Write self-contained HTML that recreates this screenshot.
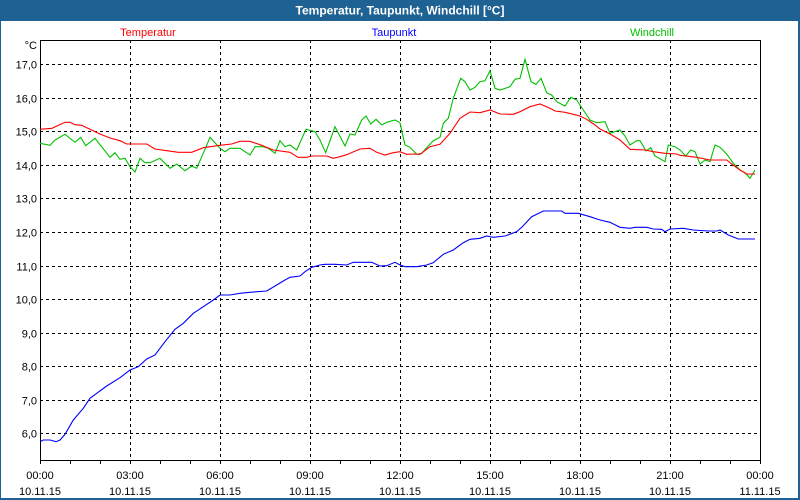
<!DOCTYPE html>
<html>
<head>
<meta charset="utf-8">
<style>
  html,body{margin:0;padding:0;background:#fff;}
  #wrap{position:relative;width:800px;height:500px;overflow:hidden;background:#fff;font-family:"Liberation Sans",sans-serif;}
  svg text{font-family:"Liberation Sans",sans-serif;}
</style>
</head>
<body>
<div id="wrap">
<svg width="800" height="500" viewBox="0 0 800 500" xmlns="http://www.w3.org/2000/svg">
  <!-- frame -->
  <rect x="0" y="0" width="800" height="500" fill="#1e6193"/>
  <rect x="1" y="21" width="797" height="477" fill="#ffffff"/>
  <text x="400" y="14.5" fill="#ffffff" font-size="12" font-weight="bold" text-anchor="middle">Temperatur, Taupunkt, Windchill [°C]</text>

  <!-- legend -->
  <text x="148" y="36" fill="#ff0000" font-size="11" text-anchor="middle">Temperatur</text>
  <text x="394" y="36" fill="#0000ff" font-size="11" text-anchor="middle">Taupunkt</text>
  <text x="652" y="36" fill="#00c000" font-size="11" text-anchor="middle">Windchill</text>

  <!-- grid -->
  <g stroke="#000" stroke-width="1" stroke-dasharray="3,3" fill="none" shape-rendering="crispEdges">
    <line x1="40" y1="64.5" x2="760" y2="64.5"/>
    <line x1="40" y1="98.5" x2="760" y2="98.5"/>
    <line x1="40" y1="131.5" x2="760" y2="131.5"/>
    <line x1="40" y1="165.5" x2="760" y2="165.5"/>
    <line x1="40" y1="198.5" x2="760" y2="198.5"/>
    <line x1="40" y1="232.5" x2="760" y2="232.5"/>
    <line x1="40" y1="266.5" x2="760" y2="266.5"/>
    <line x1="40" y1="299.5" x2="760" y2="299.5"/>
    <line x1="40" y1="333.5" x2="760" y2="333.5"/>
    <line x1="40" y1="366.5" x2="760" y2="366.5"/>
    <line x1="40" y1="400.5" x2="760" y2="400.5"/>
    <line x1="40" y1="433.5" x2="760" y2="433.5"/>
    <line x1="130.5" y1="40" x2="130.5" y2="460"/>
    <line x1="220.5" y1="40" x2="220.5" y2="460"/>
    <line x1="310.5" y1="40" x2="310.5" y2="460"/>
    <line x1="400.5" y1="40" x2="400.5" y2="460"/>
    <line x1="490.5" y1="40" x2="490.5" y2="460"/>
    <line x1="580.5" y1="40" x2="580.5" y2="460"/>
    <line x1="670.5" y1="40" x2="670.5" y2="460"/>
  </g>

  <!-- plot border -->
  <rect x="40.5" y="40.5" width="720" height="420" fill="none" stroke="#000" stroke-width="1" shape-rendering="crispEdges"/>

  <!-- x ticks -->
  <g stroke="#000" stroke-width="1" shape-rendering="crispEdges">
    <line x1="40.5" y1="460" x2="40.5" y2="464"/>
    <line x1="70.5" y1="460" x2="70.5" y2="464"/>
    <line x1="100.5" y1="460" x2="100.5" y2="464"/>
    <line x1="130.5" y1="460" x2="130.5" y2="464"/>
    <line x1="160.5" y1="460" x2="160.5" y2="464"/>
    <line x1="190.5" y1="460" x2="190.5" y2="464"/>
    <line x1="220.5" y1="460" x2="220.5" y2="464"/>
    <line x1="250.5" y1="460" x2="250.5" y2="464"/>
    <line x1="280.5" y1="460" x2="280.5" y2="464"/>
    <line x1="310.5" y1="460" x2="310.5" y2="464"/>
    <line x1="340.5" y1="460" x2="340.5" y2="464"/>
    <line x1="370.5" y1="460" x2="370.5" y2="464"/>
    <line x1="400.5" y1="460" x2="400.5" y2="464"/>
    <line x1="430.5" y1="460" x2="430.5" y2="464"/>
    <line x1="460.5" y1="460" x2="460.5" y2="464"/>
    <line x1="490.5" y1="460" x2="490.5" y2="464"/>
    <line x1="520.5" y1="460" x2="520.5" y2="464"/>
    <line x1="550.5" y1="460" x2="550.5" y2="464"/>
    <line x1="580.5" y1="460" x2="580.5" y2="464"/>
    <line x1="610.5" y1="460" x2="610.5" y2="464"/>
    <line x1="640.5" y1="460" x2="640.5" y2="464"/>
    <line x1="670.5" y1="460" x2="670.5" y2="464"/>
    <line x1="700.5" y1="460" x2="700.5" y2="464"/>
    <line x1="730.5" y1="460" x2="730.5" y2="464"/>
    <line x1="760.5" y1="460" x2="760.5" y2="464"/>
  </g>

  <!-- y labels -->
  <g font-size="11" fill="#000" text-anchor="end">
    <text x="37" y="49">°C</text>
    <text x="37" y="68.5">17,0</text>
    <text x="37" y="102.5">16,0</text>
    <text x="37" y="135.5">15,0</text>
    <text x="37" y="169.5">14,0</text>
    <text x="37" y="202.5">13,0</text>
    <text x="37" y="236.5">12,0</text>
    <text x="37" y="270.5">11,0</text>
    <text x="37" y="303.5">10,0</text>
    <text x="37" y="337.5">9,0</text>
    <text x="37" y="370.5">8,0</text>
    <text x="37" y="404.5">7,0</text>
    <text x="37" y="437.5">6,0</text>
  </g>

  <!-- x labels -->
  <g font-size="11" fill="#000" text-anchor="middle">
    <text x="40" y="479">00:00</text><text x="40" y="495">10.11.15</text>
    <text x="130" y="479">03:00</text><text x="130" y="495">10.11.15</text>
    <text x="220" y="479">06:00</text><text x="220" y="495">10.11.15</text>
    <text x="310" y="479">09:00</text><text x="310" y="495">10.11.15</text>
    <text x="400" y="479">12:00</text><text x="400" y="495">10.11.15</text>
    <text x="490" y="479">15:00</text><text x="490" y="495">10.11.15</text>
    <text x="580" y="479">18:00</text><text x="580" y="495">10.11.15</text>
    <text x="670" y="479">21:00</text><text x="670" y="495">10.11.15</text>
    <text x="760" y="479">00:00</text><text x="760" y="495">11.11.15</text>
  </g>

  <!-- series -->
  <polyline fill="none" stroke="#00c000" stroke-width="1.1" points="40,143.3 50,145.3 55,140 65,134.3 75,142.3 80.7,137.3 85.7,145.7 95,138.3 110,157.3 115,152.7 120,159.3 125,158.3 130,166.7 135,172 140,158.3 145,162.7 150,162.7 160,158.3 170,168.3 176.7,164 185,170.7 191.7,166 196.7,168.3 203.3,153.3 210,137.3 220,148.3 225,151.7 230,148.3 240,148.3 250,155 255,146.7 263.3,146.7 268.3,148.3 275,153.3 280,140.7 285,146.7 290,145 296.7,150 306,129.3 315,131.7 320,140 325.7,152.7 335,126.7 345,146 350,134 355,135 361.7,120 366,116 370.7,124 376,119.3 381.7,125 386.7,122.3 395,120 400,122.7 405,145 410,147.3 416.7,154.3 421.7,153.3 428.3,146 433.3,140.7 440,137.3 443.3,123.3 448.3,118.3 453.3,98.3 460.7,78.3 465,81.7 470,90 475,87.3 480,81.7 485,80.7 490,70.7 495,88.3 500,90 510,86.7 515,79.3 520,78.3 525,59.3 531,81.7 536,84.3 541,78.3 546.7,92.7 551.7,95 556.7,101.7 565,106 570.7,97.3 576.7,100 583.3,110 590,120 596.7,122.7 605,121.7 610,133.3 620,130 625,136 630,145 636.7,140.7 640,140.7 646,151 650.7,147.7 655,156 665,161.7 668.3,145 675,146.7 680,150 685.7,156 690.7,150 695,151.7 700,164 705,160 710,161.7 715,145 720,147.3 726.7,154 733.3,163.3 740,170 745,172.7 750,178.3 755,170"/>
  <polyline fill="none" stroke="#ff0000" stroke-width="1.1" points="40,129.3 52,128.3 65,122.3 70,122.3 75,124.7 81.7,125.3 90,129.3 100,134 110,138 120,140.7 126.7,144 146.7,144 155,149 166.7,150.7 178.3,152.3 191.7,152.3 203.3,147.7 220,145.3 231.7,144 240,141.3 250,141.3 260,144.7 273.3,150 290,152.3 298,157.3 306.7,157.3 311.7,156 326.7,156 333.3,158.3 340,156.7 346.7,154.7 360,149 370,148.3 376.7,152.3 385,155 393.3,152.7 400,151.7 406.7,154.3 413.3,154 420,154.3 430,146.7 440,144.3 450,133.3 460,118.3 470,112 480,112.7 490,110 500,114 513.3,114.3 520,111.7 530,106.7 540,104 550,108.3 555,111 565,112.3 573.3,114.3 580,116 586.7,119.3 595,125 600,129 610,134 620,140 630,149.3 645,150 653.3,151.7 665,153.3 676.7,154 680,155.3 696.7,157.3 710,160 726.7,160 731.7,164 740,170 746.7,174 755,174"/>
  <polyline fill="none" stroke="#0000ff" stroke-width="1.1" points="40,441.7 43.3,440 50,440 56,441.7 60,440 65,434.3 73.3,420 83.3,408.3 90,398.3 96.7,393.3 106.7,386 120,377.7 130,370 138.3,366.7 146.7,359 155,355 165,341.7 175,329.3 183.3,323.3 193.3,313.3 203.3,306.7 213.3,300 220,295 230,295 240,293.3 250,292.3 266.7,291 276.7,285 285,280 290,277.3 300,276 305,271.7 311.7,267.3 320,265 325,264.3 335,264.3 346.7,265 353.3,262.3 371.7,262.3 380,266 386.7,265.7 395,262.3 400,265 405,266.7 416.7,266.7 426.7,265 433.3,262.7 443.3,254.3 453.3,250 463.3,242.7 470,239.3 480,238.3 486.7,236 493.3,237.3 505,236 516.7,231.7 522,227 531.7,216.7 543.3,211 561.7,211 565,213.3 578.3,213.3 590,216.7 600,220 610,222.3 620,227.3 630,228.3 635,227.3 646.7,227.3 653.3,229 661.7,229.3 665,231.7 670,229 683.3,228.3 693.3,230 708.3,231 716.7,231 720,230 728.3,235 738.3,239 755,239"/>
</svg>
</div>
</body>
</html>
